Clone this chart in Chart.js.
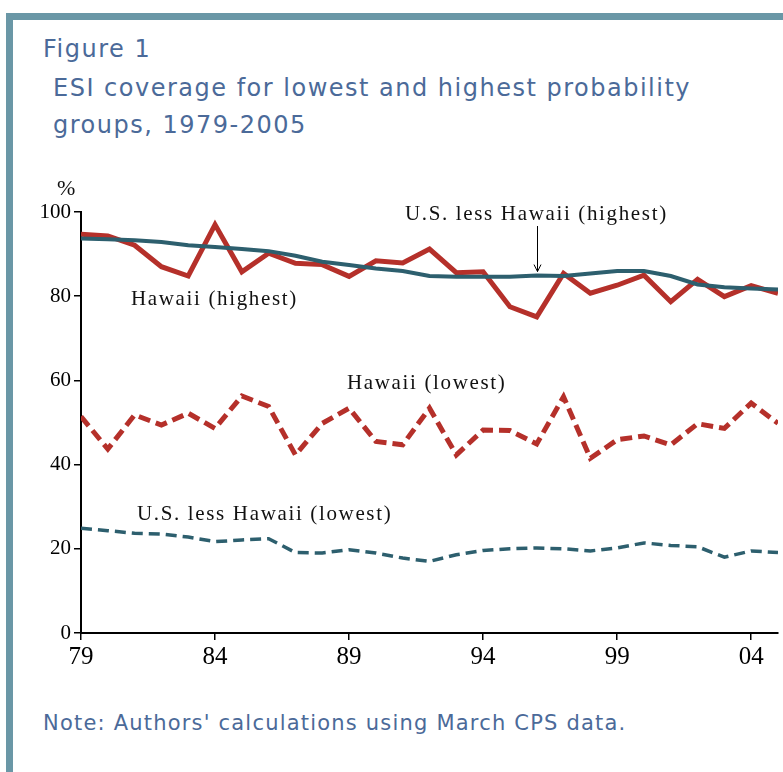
<!DOCTYPE html>
<html>
<head>
<meta charset="utf-8">
<script src="https://cdn.jsdelivr.net/npm/chart.js@4/dist/chart.umd.min.js"></script>
<style>
  html, body { margin:0; padding:0; width:783px; height:772px; overflow:hidden; background:#fff; }
  #frame { position:absolute; left:6px; top:13px; width:900px; height:900px;
           border-left:7px solid #6A97A6; border-top:7px solid #6A97A6; box-sizing:border-box; }
  .hd { position:absolute; font-family:"DejaVu Sans", sans-serif; color:#4B6A99; white-space:nowrap; line-height:1; }
  .lbl { position:absolute; font-family:"Liberation Serif", serif; color:#111; white-space:nowrap; line-height:1; font-size:21px; letter-spacing:1.65px; }
  #wrap { position:absolute; left:0; top:0; width:783px; height:772px; }
</style>
</head>
<body>
<div id="frame"></div>
<div class="hd" style="left:43px; top:37px; font-size:24px; letter-spacing:1.5px;">Figure 1</div>
<div class="hd" style="left:53px; top:76px; font-size:24px; letter-spacing:1.5px;">ESI coverage for lowest and highest probability</div>
<div class="hd" style="left:53px; top:113px; font-size:24px; letter-spacing:1.5px;">groups, 1979-2005</div>
<div class="hd" style="left:43px; top:713px; font-size:21px; letter-spacing:1.2px;">Note: Authors' calculations using March CPS data.</div>
<div id="wrap"><canvas id="c" width="783" height="772"></canvas></div>
<div class="lbl" style="left:57px; top:177px; font-size:22px; letter-spacing:0;">%</div>
<div class="lbl" style="left:405px; top:203px;">U.S. less Hawaii (highest)</div>
<div class="lbl" style="left:131px; top:288px;">Hawaii (highest)</div>
<div class="lbl" style="left:347px; top:372px;">Hawaii (lowest)</div>
<div class="lbl" style="left:137px; top:503px;">U.S. less Hawaii (lowest)</div>
<script>
const years = [1979,1980,1981,1982,1983,1984,1985,1986,1987,1988,1989,1990,1991,1992,1993,1994,1995,1996,1997,1998,1999,2000,2001,2002,2003,2004,2005];
const hawaiiHighest = [94.7,94.3,92.1,87.0,84.8,97.0,85.8,90.2,87.8,87.5,84.7,88.4,87.9,91.2,85.6,85.8,77.5,75.1,85.4,80.7,82.6,85.0,78.7,84.0,79.9,82.5,80.7];
const usHighest = [93.7,93.5,93.3,92.9,92.1,91.7,91.2,90.7,89.6,88.2,87.4,86.6,86.0,84.8,84.6,84.6,84.6,84.9,84.8,85.4,86.0,86.0,84.8,82.8,82.1,81.8,81.6];
const hawaiiLowest = [51.4,43.7,51.8,49.4,52.2,48.6,56.3,53.8,42.3,49.8,53.4,45.5,44.7,53.4,42.3,48.2,48.1,44.9,56.1,41.5,45.9,46.8,44.7,49.7,48.6,54.6,49.8];
const usLowest = [24.9,24.3,23.7,23.5,22.8,21.7,22.1,22.4,19.1,19.0,19.8,19.0,17.8,17.0,18.6,19.6,20.0,20.2,20.0,19.5,20.2,21.4,20.8,20.5,18.0,19.5,19.1];
const xTickYears = [1979,1984,1989,1994,1999,2004];
const yTicks = [0,20,40,60,80,100];
const arrowYear = 1996;

const RED = '#B5302A';
const TEAL = '#2D5F6E';
const pts = arr => years.map((y,i) => ({x:y, y:arr[i]}));

const arrowPlugin = {
  id:'arrow',
  afterDatasetsDraw(chart){
    const {ctx, scales:{x, y}} = chart;
    const i = years.indexOf(arrowYear);
    const px = Math.round(x.getPixelForValue(arrowYear)) + 0.5;
    const yEnd = y.getPixelForValue(usHighest[i]) - 4;
    const yStart = 226;
    ctx.save();
    ctx.strokeStyle = '#000'; ctx.lineWidth = 1;
    ctx.beginPath(); ctx.moveTo(px, yStart); ctx.lineTo(px, yEnd); ctx.stroke();
    ctx.beginPath(); ctx.moveTo(px-3.5, yEnd-7); ctx.lineTo(px, yEnd); ctx.lineTo(px+3.5, yEnd-7); ctx.stroke();
    ctx.restore();
  }
};

const axisCommon = {
  grid:{drawOnChartArea:false, drawTicks:true, tickLength:7, color:'#000', lineWidth:1.5},
  border:{color:'#000', width:2},
};

new Chart(document.getElementById('c'), {
  type:'line',
  data:{ datasets:[
    {label:'Hawaii (lowest)', data:pts(hawaiiLowest), borderColor:RED, borderWidth:5, borderDash:[12,6], pointRadius:0, tension:0, order:4},
    {label:'Hawaii (highest)', data:pts(hawaiiHighest), borderColor:RED, borderWidth:5, pointRadius:0, tension:0, order:3},
    {label:'U.S. less Hawaii (lowest)', data:pts(usLowest), borderColor:TEAL, borderWidth:3.5, borderDash:[11,6], pointRadius:0, tension:0, order:2},
    {label:'U.S. less Hawaii (highest)', data:pts(usHighest), borderColor:TEAL, borderWidth:4, pointRadius:0, tension:0, order:1},
  ]},
  options:{
    responsive:false, animation:false,
    layout:{padding:{top:212, right:5, left:0, bottom:0}},
    plugins:{legend:{display:false}, tooltip:{enabled:false}},
    scales:{
      x:{ type:'linear', min:1979, max:2005, ...axisCommon,
          afterBuildTicks(s){ s.ticks = xTickYears.map(v=>({value:v})); },
          afterFit(s){ s.height = 139; },
          ticks:{ autoSkip:false, maxRotation:0, color:'#000', padding:2,
                  font:{family:'Liberation Serif', size:25},
                  callback:v => String(v%100).padStart(2,'0') } },
      y:{ min:0, max:100, ...axisCommon,
          afterBuildTicks(s){ s.ticks = yTicks.map(v=>({value:v})); },
          afterFit(s){ s.width = 81; },
          ticks:{ color:'#000', padding:3, font:{family:'Liberation Serif', size:21} } }
    }
  },
  plugins:[arrowPlugin]
});
</script>
</body>
</html>
